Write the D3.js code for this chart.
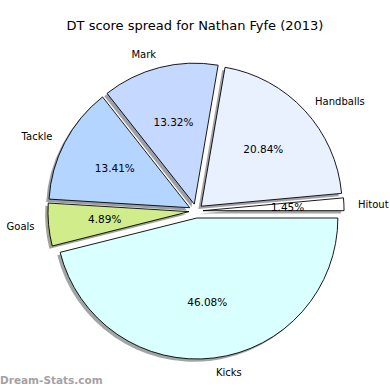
<!DOCTYPE html>
<html>
<head>
<meta charset="utf-8">
<script src="https://cdn.jsdelivr.net/npm/d3@7"></script>
<style>
  body { margin: 0; background: #fff; }
  svg { display: block; font-family: "DejaVu Sans", sans-serif; }
</style>
</head>
<body>
<svg id="chart" width="390" height="390"></svg>
<script>
var categories = ["Hitout", "Handballs", "Mark", "Tackle", "Goals", "Kicks"];
var shares = [1.45, 20.84, 13.32, 13.41, 4.89, 46.08];
var colors = ["#ffffff", "#e9f1ff", "#c5d8ff", "#b4d5ff", "#d0ec8b", "#d9ffff"];

var W = 390, H = 390,
	CX = 196, CY = 211,
	RADIUS = 141,
	EXPLODE = 0.05,
	SHADOW = 0.02;

var svg = d3.select("#chart");

svg.append("text")
	.attr("x", W / 2)
	.attr("y", 25)
	.attr("text-anchor", "middle")
	.attr("dominant-baseline", "central")
	.attr("font-size", 13)
	.attr("fill", "#000")
	.text("DT score spread for Nathan Fyfe (2013)");

var data = categories.map(function(c, i) { return {name: c, value: shares[i], color: colors[i]}; });

// matplotlib-style: start at 3 o'clock, run counter-clockwise
var pie = d3.pie()
	.sort(null)
	.value(function(d) { return d.value; })
	.startAngle(Math.PI / 2)
	.endAngle(Math.PI / 2 - 2 * Math.PI);

var arcs = pie(data);
var arc = d3.arc().innerRadius(0).outerRadius(RADIUS);

function mid(d) { return (d.startAngle + d.endAngle) / 2; }
function offset(d, dist) {
	var a = mid(d);
	return [Math.sin(a) * dist, -Math.cos(a) * dist];
}

var g = svg.append("g").attr("transform", "translate(" + CX + "," + CY + ")");

// shadows
g.selectAll(".shadow")
	.data(arcs)
	.enter()
	.append("path")
	.attr("class", "shadow")
	.attr("d", arc)
	.attr("fill", function(d) { var c = d3.rgb(d.data.color); return d3.rgb(c.r * 0.3, c.g * 0.3, c.b * 0.3); })
	.attr("fill-opacity", 0.5)
	.attr("transform", function(d) {
		var o = offset(d, EXPLODE * RADIUS);
		return "translate(" + (o[0] - SHADOW * RADIUS) + "," + (o[1] + SHADOW * RADIUS) + ")";
	});

// wedges
g.selectAll(".wedge")
	.data(arcs)
	.enter()
	.append("path")
	.attr("class", "wedge")
	.attr("d", arc)
	.attr("fill", function(d) { return d.data.color; })
	.attr("stroke", "#000")
	.attr("stroke-width", 0.9)
	.attr("stroke-linejoin", "round")
	.attr("transform", function(d) {
		var o = offset(d, EXPLODE * RADIUS);
		return "translate(" + o[0] + "," + o[1] + ")";
	});

// category labels
g.selectAll(".label")
	.data(arcs)
	.enter()
	.append("text")
	.attr("class", "label")
	.attr("x", function(d) { return offset(d, (1.1 + EXPLODE) * RADIUS)[0]; })
	.attr("y", function(d) { return offset(d, (1.1 + EXPLODE) * RADIUS)[1] + 1; })
	.attr("text-anchor", function(d) { return Math.sin(mid(d)) > 0 ? "start" : "end"; })
	.attr("dominant-baseline", "central")
	.attr("font-size", 10)
	.attr("fill", "#000")
	.text(function(d) { return d.data.name; });

// percentages
g.selectAll(".pct")
	.data(arcs)
	.enter()
	.append("text")
	.attr("class", "pct")
	.attr("x", function(d) { return offset(d, (0.6 + EXPLODE) * RADIUS)[0]; })
	.attr("y", function(d) { return offset(d, (0.6 + EXPLODE) * RADIUS)[1]; })
	.attr("text-anchor", "middle")
	.attr("dominant-baseline", "central")
	.attr("font-size", 10.5)
	.attr("fill", "#000")
	.text(function(d) { return d3.format(".2f")(d.data.value) + "%"; });

svg.append("text")
	.attr("x", 0)
	.attr("y", 384)
	.attr("font-size", 10.5)
	.attr("font-weight", "bold")
	.attr("fill", "#a3a3a3")
	.text("Dream-Stats.com");
</script>
</body>
</html>
